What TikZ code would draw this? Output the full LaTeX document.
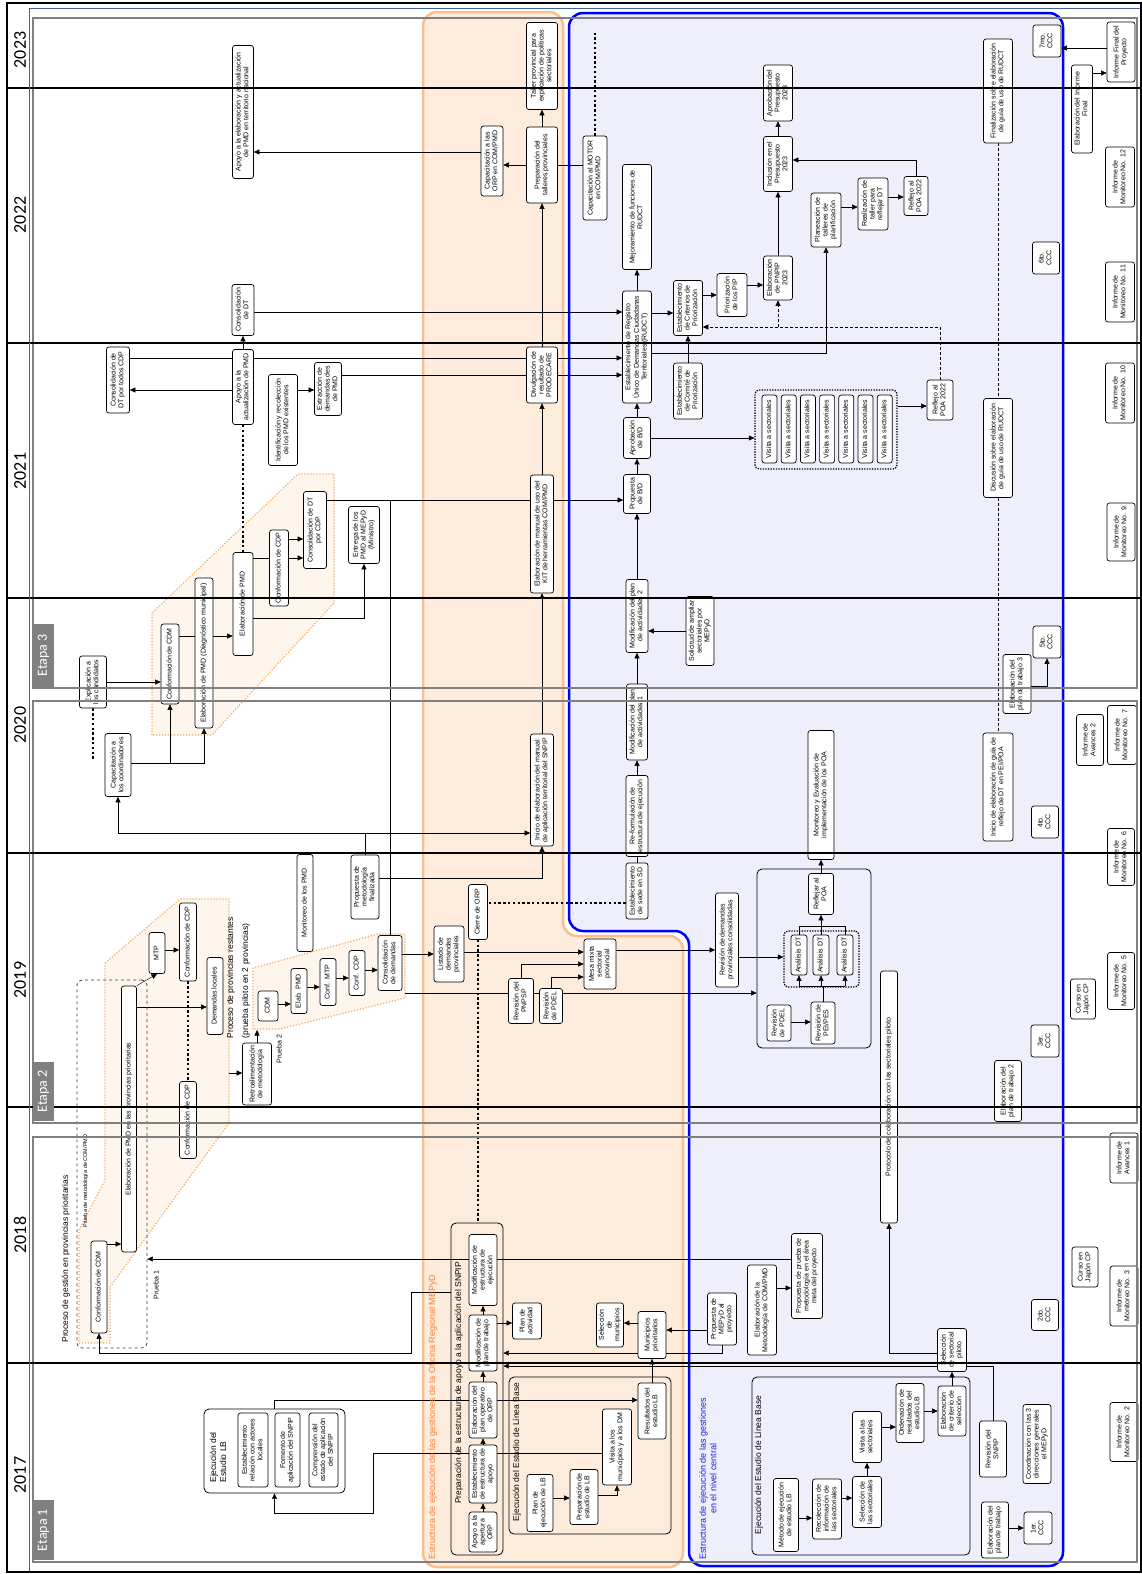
\documentclass[tikz,border=0pt]{standalone}
\usepackage{graphicx}
\usepackage{fontspec}
\setmainfont{Liberation Sans}
\newfontfamily\carlito{Carlito}
\usetikzlibrary{arrows.meta}
\definecolor{laneO}{RGB}{253,236,220}
\definecolor{laneOb}{RGB}{250,191,143}
\definecolor{laneB}{RGB}{239,239,251}
\definecolor{hexF}{RGB}{254,246,236}
\definecolor{hexL}{RGB}{248,170,95}
\definecolor{txtO}{RGB}{244,128,56}
\definecolor{txtB}{RGB}{30,30,230}
\definecolor{etapaG}{RGB}{128,128,128}
\definecolor{frameB}{RGB}{60,100,150}
\newcommand\vt[2][c]{\rotatebox{90}{\begin{tabular}{@{}#1@{}}#2\end{tabular}}}
\pgfdeclarelayer{bg}\pgfdeclarelayer{lines}\pgfdeclarelayer{front}
\pgfsetlayers{bg,lines,main,front}
\tikzset{
  bx/.style={draw,rounded corners=2.5pt,fill=white,inner sep=1pt,line width=.7pt,font=\fontsize{7}{7.8}\selectfont},
  sz/.style 2 args={minimum width=#1pt,minimum height=#2pt},
  grp/.style={draw,rounded corners=5pt,line width=.8pt,inner sep=0pt},
  dotgrp/.style={draw,rounded corners=4pt,line width=1.3pt,dash pattern=on 1.3pt off 1.3pt,inner sep=0pt},
  lbl/.style={inner sep=0pt,font=\fontsize{8.5}{10}\selectfont},
  contd/.style={line width=2.4pt,dash pattern=on 2.4pt off 2.4pt},
  dsh/.style={line width=.6pt,dash pattern=on 3pt off 2pt},
  hex/.style={fill=hexF,draw=hexL,line width=1.2pt,dash pattern=on 1.2pt off 1.8pt},
  yr/.style={inner sep=0pt,font=\carlito\fontsize{18}{18}\selectfont},
  etp/.style={fill=etapaG,text=white,inner sep=0pt,minimum width=21pt,font=\carlito\fontsize{14}{14}\selectfont}
}
\begin{document}
\begin{tikzpicture}[x=1pt,y=-1pt,line width=.7pt,>={Triangle[length=5.5pt,width=5pt]}]
\useasboundingbox (0,0) rectangle (1142,1574);

\node[bx,sz={21}{133}] (apoyoTN) at (243,112) {\vt{Apoyo a la elaboración y actualización\\de PMD en territorio nacional}};
\node[bx,sz={22}{51}] (consDT) at (243,310) {\vt{Consolidación\\de DT}};
\node[bx,sz={31}{87}] (taller) at (542,66) {\vt{Taller provincial para\\explicación de políticas\\sectoriales}};
\node[bx,sz={31}{76}] (prepTall) at (542,165) {\vt{Preparación del\\talleres provinciales}};
\node[bx,sz={22}{70}] (capORP) at (492,161) {\vt{Capacitación a las\\ORP en COM/PMD}};
\node[bx,sz={24}{84}] (capMOT) at (595,178) {\vt{Capacitación al MOTDR\\en COM/PMD}};
\node[bx,sz={29}{105}] (mejora) at (637,217) {\vt{Mejoramiento de funciones de\\RUDCT}};
\node[bx,sz={29}{112}] (rudct) at (637,347) {\vt{Establecimiento de Registro\\Único de Demandas Ciudadanas\\Territoriales (RUDCT)}};
\node[bx,sz={29}{55}] (criterios) at (688,308) {\vt{Establecimiento\\de Criterios de\\Priorización}};
\node[bx,sz={30}{43}] (priorPIP) at (732,295) {\vt{Priorización\\de los PIP}};
\node[bx,sz={29}{56}] (comite) at (688,391) {\vt{Establecimiento\\de Comité de\\Priorización}};
\node[bx,sz={29}{56}] (aprobPres) at (778,93) {\vt{Aprobación del\\Presupuesto\\2023}};
\node[bx,sz={29}{55}] (inclPres) at (778,164) {\vt{Inclusión en el\\Presupuesto\\2023}};
\node[bx,sz={29}{44}] (pnpip) at (778,278) {\vt{Elaboración\\de PNPIP\\2023}};
\node[bx,sz={30}{54}] (planea) at (826,220) {\vt{Planeación de\\talleres de\\planificación}};
\node[bx,sz={30}{52}] (realiz) at (873,204) {\vt{Realización de\\taller para\\reflejar DT}};
\node[bx,sz={24}{39}] (reflejoA) at (916,196) {\vt{Reflejo al\\POA 2022}};
\node[bx,sz={29}{104}] (finGuia) at (998,91) {\vt{Finalización sobre elaboración\\de guía de uso de RUDCT}};
\node[bx,sz={28}{32}] (ccc7) at (1047,41) {\vt{7mo.\\CCC}};
\node[bx,sz={27}{32}] (ccc6) at (1046,258) {\vt{6to.\\CCC}};
\node[bx,sz={21}{88}] (elabIF) at (1082,109) {\vt{Elaboración del Informe\\Final}};
\node[bx,sz={28}{60}] (infFinal) at (1121,52) {\vt{Informe Final del\\Proyecto}};
\node[bx,sz={29}{60}] (mon12) at (1120,177) {\vt{Informe de\\Monitoreo No. 12}};
\node[bx,sz={29}{60}] (mon11) at (1120,292) {\vt{Informe de\\Monitoreo No. 11}};
\node[bx,sz={29}{60}] (mon10) at (1120,393) {\vt{Informe de\\Monitoreo No. 10}};

\node[bx,sz={23}{66}] (consTodos) at (118,380) {\vt{Consolidación de\\DT por todos CDP}};
\node[bx,sz={21}{75}] (apoyoAct) at (243,387) {\vt{Apoyo a la\\actualización de PMD}};
\node[bx,sz={29}{91}] (identif) at (283,420) {\vt{Identificación y recolección\\de los PMD existentes}};
\node[bx,sz={27}{53}] (extrac) at (328,389) {\vt{Extracción de\\demandas des\\de PMD}};
\node[bx,sz={31}{56}] (divulg) at (542,375) {\vt{Divulgación de\\resultado de\\PRODECARE}};
\node[bx,sz={23}{118}] (elabKIT) at (542,534) {\vt{Elaboración de manual de uso del\\KIT de herramientas COM/PMD}};
\node[bx,sz={27}{39}] (propBD) at (637,494) {\vt{Propuesta\\de B/D}};
\node[bx,sz={27}{41}] (aprobBD) at (637,438) {\vt{Aprobación\\de B/D}};
\node[bx,sz={22}{73}] (modPlan2) at (637,616) {\vt{Modificación del plan\\de actividades 2}};
\node[bx,sz={28}{69}] (solicitud) at (700,631) {\vt{Solicitud de ampliar\\sectoriales por\\MEPyD}};
\node[dotgrp,sz={142}{79}] (vgrp) at (826,429.5) {};
\foreach \i in {0,...,6}
  \node[bx,sz={15}{68}] (vis\i) at ({769.5+19.2*\i},429) {\vt{Visita a sectoriales}};
\node[bx,sz={26}{40}] (reflejoB) at (940,400) {\vt{Reflejo al\\POA 2022}};
\node[bx,sz={29}{99}] (discGuia) at (998,448) {\vt{Discusión sobre elaboración\\de guía de uso de RUDCT}};
\node[bx,sz={28}{58}] (mon9) at (1121,532) {\vt{Informe de\\Monitoreo No. 9}};
\node[bx,sz={27}{52}] (explic) at (93,682) {\vt{Explicación a\\los candidatos}};
\node[bx,sz={18}{80}] (confCDMa) at (170,664) {\vt{Conformación de CDM}};
\node[bx,sz={18}{150}] (elabDiag) at (204,653) {\vt{Elaboración de PMD (Diagnóstico municipal)}};
\node[bx,sz={20}{103}] (elabPMD) at (243,604) {\vt{Elaboración de PMD}};
\node[bx,sz={19}{76}] (confCDPc) at (279,568) {\vt{Conformación de CDP}};
\node[bx,sz={23}{77}] (consCDP) at (315,530) {\vt{Consolidación de DT\\por CDP}};
\node[bx,sz={31}{57}] (entrega) at (364,535) {\vt{Entrega de los\\PMD al MEPyD\\(Ministro)}};
\node[bx,sz={26}{63}] (capCoord) at (118,765) {\vt{Capacitación a\\los coordinadores}};

\node[bx,sz={28}{32}] (ccc5) at (1047,642) {\vt{5to.\\CCC}};
\node[bx,sz={28}{59}] (elabPT3) at (1017,684) {\vt{Elaboración del\\plan de trabajo 3}};
\node[bx,sz={27}{51}] (avances2) at (1090,740) {\vt{Informe de\\Avances 2}};
\node[bx,sz={29}{59}] (mon7) at (1122,735) {\vt{Informe de\\Monitoreo No. 7}};
\node[bx,sz={21}{76}] (modPlan1) at (637,722) {\vt{Modificación del plan\\de actividades 1}};
\node[bx,sz={22}{81}] (reform) at (637,816) {\vt{Re-formulación de\\estructura de ejecución}};
\node[bx,sz={23}{112}] (inicioMan) at (542,790) {\vt{Inicio de elaboración del manual\\de aplicación territorial del SNPIP}};
\node[bx,sz={26}{129}] (monitEval) at (821,795) {\vt{Monitoreo y Evaluación de\\implementación de los POA}};
\node[bx,sz={30}{108}] (inicioGuia) at (998,787) {\vt{Inicio de elaboración de guía de\\reflejo de DT en PEI/POA}};
\node[bx,sz={27}{32}] (ccc4) at (1045,822) {\vt{4to.\\CCC}};
\node[bx,sz={27}{57}] (mon6) at (1121,857) {\vt{Informe de\\Monitoreo No. 6}};

\node[bx,sz={22}{56}] (sede) at (637,891) {\vt{Establecimiento\\de sede en SD}};
\node[bx,sz={19}{55}] (cierre) at (478,912) {\vt{Cierre de ORP}};
\node[bx,sz={30}{56}] (listado) at (449,954) {\vt{Listado de\\demandas\\provinciales}};
\node[bx,sz={24}{55}] (consDem) at (390,963) {\vt{Consolidación\\de demandas}};
\node[bx,sz={32}{50}] (mesa) at (600,964) {\vt{Mesa mixta\\sectorial\\provincial}};
\node[bx,sz={25}{45}] (revPNPSP) at (521,1001) {\vt{Revisión del\\PNPSP}};
\node[bx,sz={23}{35}] (revPDELa) at (551,1006) {\vt{Revisión\\de PDEL}};
\node[bx,sz={23}{94}] (revDem) at (727,940) {\vt{Revisión de demandas\\provinciales consolidadas}};
\node[grp,sz={114}{179}] (revGrp) at (814,958.5) {};
\node[bx,sz={25}{41}] (reflejar) at (821,894) {\vt{Reflejar al\\POA}};
\node[dotgrp,sz={75}{56}] (anaGrp) at (821.5,959) {};
\node[bx,sz={16}{40}] (ana1) at (799,955) {\vt{Análisis DT}};
\node[bx,sz={16}{40}] (ana2) at (821,955) {\vt{Análisis DT}};
\node[bx,sz={16}{40}] (ana3) at (845,955) {\vt{Análisis DT}};
\node[bx,sz={24}{36}] (revPDELb) at (779,1023) {\vt{Revisión\\de PDEL}};
\node[bx,sz={24}{42}] (revPEI) at (823,1023) {\vt{Revisión de\\PEI/PES}};
\node[bx,sz={17}{252}] (protocolo) at (889,1097) {\vt{Protocolo de colaboración con las sectoriales piloto}};
\node[bx,sz={25}{40}] (cursoA) at (1083,999) {\vt{Curso en\\Japón CP}};
\node[bx,sz={27}{57}] (mon5) at (1121,981) {\vt{Informe de\\Monitoreo No. 5}};
\node[bx,sz={28}{32}] (ccc3) at (1045,1041) {\vt{3er.\\CCC}};
\node[bx,sz={27}{61}] (elabPT2) at (1008,1091) {\vt{Elaboración del\\plan de trabajo 2}};
\node[bx,sz={16}{97}] (monPMD) at (305,903) {\vt{Monitoreo de los PMD}};
\node[bx,sz={28}{64}] (propMet) at (365,887) {\vt{Propuesta de\\metodología\\finalizada}};
\node[bx,sz={16}{41}] (mtp) at (157,953) {\vt{MTP}};
\node[bx,sz={17}{78}] (confCDPa) at (188,942) {\vt{Conformación de CDP}};
\node[bx,sz={16}{77}] (demLoc) at (215,996) {\vt{Demandas locales}};
\node[bx,sz={17}{77}] (confCDPb) at (188,1120) {\vt{Conformación de CDP}};
\node[bx,sz={29}{62}] (retro) at (257,1074) {\vt{Retroalimentación\\de metodología}};
\node[bx,sz={20}{30}] (cdmB) at (268,1006) {\vt{CDM}};
\node[bx,sz={16}{45}] (elabB) at (299,991) {\vt{Elab. PMD}};
\node[bx,sz={16}{47}] (confMTP) at (328,982) {\vt{Conf. MTP}};
\node[bx,sz={16}{45}] (confCDPd) at (357,973) {\vt{Conf. CDP}};
\node[bx,sz={15}{266}] (elabProv) at (129,1119) {\vt{Elaboración de PMD en las provincias prioritarias}};

\node[bx,sz={16}{92}] (confCDMb) at (99,1287) {\vt{Conformación de CDM}};
\node[grp,dashed,draw=black!75,sz={70}{368}] (pgGrp) at (112,1164) {};
\node[bx,sz={28}{50}] (avances1) at (1124,1158) {\vt{Informe de\\Avances 1}};
\node[bx,sz={26}{40}] (cursoB) at (1085,1267) {\vt{Curso en\\Japón CP}};
\node[bx,sz={28}{60}] (mon3) at (1124,1296) {\vt{Informe de\\Monitoreo No. 3}};
\node[bx,sz={27}{31}] (ccc2) at (1045,1315) {\vt{2do.\\CCC}};
\node[bx,sz={31}{85}] (propPrueba) at (807,1276) {\vt{Propuesta de prueba de\\metodología en el área\\meta del proyecto}};
\node[bx,sz={29}{90}] (elabMet) at (762,1310) {\vt{Elaboración de la\\Metodología de COM/PMD}};
\node[bx,sz={29}{43}] (selSect) at (952,1350) {\vt{Selección\\de sectorial\\piloto}};
\node[grp,sz={52}{332}] (prepGrp) at (477,1389) {};
\node[bx,sz={28}{71}] (modEstr) at (483,1270) {\vt{Modificación de\\estructura de\\ejecución}};
\node[bx,sz={28}{56}] (modPlan) at (483,1343) {\vt{Modificación de\\plan de trabajo}};
\node[bx,sz={29}{36}] (planAct) at (527,1321) {\vt{Plan de\\actividad}};
\node[bx,sz={27}{44}] (selMun) at (610,1325) {\vt{Selección\\de\\municipios}};
\node[bx,sz={28}{47}] (munPrio) at (652,1335) {\vt{Municipios\\prioritarios}};
\node[bx,sz={29}{52}] (propMEPyD) at (722,1319) {\vt{Propuesta de\\MEPyD al\\proyecto}};

\node[bx,sz={28}{56}] (elabPO) at (483,1410) {\vt{Elaboración del\\plan operativo\\de ORP}};
\node[bx,sz={28}{58}] (estEstr) at (483,1474) {\vt{Establecimiento\\de estructura de\\apoyo}};
\node[bx,sz={28}{40}] (apoyoORP) at (483,1532) {\vt{Apoyo a la\\apertura\\ORP}};
\node[grp,sz={162}{157}] (lbGrpO) at (590,1455.5) {};
\node[bx,sz={26}{57}] (planLB) at (540,1503) {\vt{Plan de\\ejecución de LB}};
\node[bx,sz={28}{55}] (prepLB) at (584,1497) {\vt{Preparación de\\estudio de LB}};
\node[bx,sz={29}{76}] (visMun) at (617,1447) {\vt{Visita a los\\municipios y a los DM}};
\node[bx,sz={28}{56}] (resLB) at (652,1411) {\vt{Resultados del\\estudio LB}};
\node[grp,sz={141}{84}] (lbGrp17) at (274.5,1451) {};
\node[bx,sz={30}{74}] (est17) at (253,1450) {\vt{Establecimiento\\relación con actores\\locales}};
\node[bx,sz={25}{74}] (fom17) at (287.5,1450) {\vt{Fomento de\\aplicación del SNPIP}};
\node[bx,sz={29}{74}] (comp17) at (323.5,1450) {\vt{Comprensión del\\estado de aplicación\\del SNPIP}};
\node[grp,sz={218}{178}] (lbGrpB) at (861,1466) {};
\node[bx,sz={25}{73}] (metodo) at (786,1515) {\vt{Método de ejecución\\de estudio LB}};
\node[bx,sz={29}{60}] (recol) at (827,1509) {\vt{Recolección de\\información de\\las sectoriales}};
\node[bx,sz={29}{51}] (selS) at (867,1502) {\vt{Selección de\\las sectoriales}};
\node[bx,sz={29}{51}] (visS) at (867,1437) {\vt{Visita a las\\sectoriales}};
\node[bx,sz={28}{59}] (orden) at (910,1413) {\vt{Ordenación de\\resultados del\\estudio LB}};
\node[bx,sz={28}{50}] (criterio) at (952,1411) {\vt{Elaboración\\de criterio de\\selección}};
\node[bx,sz={27}{56}] (revSNPIP) at (993,1449) {\vt{Revisión del\\SNPIP}};
\node[bx,sz={28}{79}] (coord3) at (1037,1444) {\vt{Coordinación con las 3\\direcciones generales\\el MEPyD}};
\node[bx,sz={27}{56}] (elabPT) at (995,1530) {\vt{Elaboración del\\plan de trabajo}};
\node[bx,sz={28}{32}] (ccc1) at (1038,1528) {\vt{1er.\\CCC}};
\node[bx,sz={28}{59}] (mon2) at (1124,1432) {\vt{Informe de\\Monitoreo No. 2}};

\node[lbl,text=txtO,font=\fontsize{9}{10}\selectfont,anchor=south] (lblO) at (433,1560) {\vt{Estructura de ejecución de las gestiones de la Oficina Regional MEPyD}};
\node[lbl,text=txtB,font=\fontsize{9}{10.5}\selectfont,anchor=south] (lblB) at (709,1560) {\vt{Estructura de ejecución de las gestiones\\en el nivel central}};
\node[lbl] (lblPrep) at (459,1383) {\vt{Preparación de la estructura de apoyo a la aplicación del SNPIP}};
\node[lbl] (lblLBo) at (517,1452) {\vt{Ejecución del Estudio de Línea Base}};
\node[lbl] (lblLBb) at (759,1465) {\vt{Ejecución del Estudio de Línea Base}};
\node[lbl,anchor=south] (lbl17) at (219,1483) {\vt[l]{Ejecución del\\Estudio LB}};
\node[lbl,anchor=south] (lblPG) at (66,1343) {\vt{Proceso de gestión en provincias prioritarias}};
\node[lbl,font=\fontsize{5.5}{6}\selectfont,anchor=south] (lblPM) at (86,1228) {\vt{Prueba de metodología de COM/PMD}};
\node[lbl,font=\fontsize{7}{8}\selectfont] (lblP1) at (157,1285) {\vt{Prueba 1}};
\node[lbl] (lblPR) at (231,978) {\vt{Proceso de provincias restantes}};
\node[lbl] (lblPP) at (246,981) {\vt{(prueba piloto en 2 provincias)}};
\node[lbl,font=\fontsize{7}{8}\selectfont] (lblP2) at (280,1049) {\vt{Prueba 2}};

\begin{pgfonlayer}{bg}
\fill[white] (0,0) rectangle (1142,1574);
\path[fill=laneO,draw=laneOb,line width=2.5pt,rounded corners=14pt] (423,1567) -- (423,12) -- (563,12) -- (563,936) -- (683,936) -- (683,1567) -- cycle;
\path[fill=laneB,draw=blue,line width=2.5pt,rounded corners=14pt] (689,1566) -- (689,931) -- (569,931) -- (569,13) -- (1063,13) -- (1063,1566) -- cycle;
\draw[hex] (152,735) -- (152,613) -- (298,474) -- (334,474) -- (334,603) -- (212,735) -- cycle;
\draw[hex] (105,963) -- (180,899) -- (229,899) -- (229,1123) -- (110,1287) -- (110,1343) -- (79,1343) -- (79,1230) -- (105,1180) -- cycle;
\draw[hex] (253,1029) -- (253,968) -- (378,934) -- (405,934) -- (405,998) -- (280,1029) -- cycle;
\end{pgfonlayer}

\begin{pgfonlayer}{lines}
\draw[->] (capORP.west |- 0,152) -- (apoyoTN.east |- 0,152);
\draw[->] (consDT.east |- 0,312) -- (rudct.west |- 0,312);
\draw[->] (prepTall) -- (taller);
\draw[->] (prepTall.west |- 0,165) -- (capORP.east |- 0,165);
\draw (capMOT.west |- 0,165) -- (prepTall.east |- 0,165);
\coordinate (motEnd) at (595,33);
\draw[contd] (capMOT.north) -- (motEnd);
\draw[->] (divulg) -- (prepTall);
\draw[->] (rudct) -- (mejora);
\draw[->] (rudct.east |- 0,313) -- (criterios.west |- 0,313);
\draw[->] (criterios.east |- 0,295) -- (priorPIP.west |- 0,295);
\draw[->] (comite) -- (criterios);
\draw[->] (priorPIP.east |- 0,285) -- (pnpip.west |- 0,285);
\draw[->] (pnpip) -- (inclPres);
\draw[->] (inclPres) -- (aprobPres);
\draw[dsh,->] (reflejoB.north) |- (criterios.east |- 0,327);
\draw[dsh,->] (pnpip.south |- 0,327) -- (pnpip.south);
\draw[->] (rudct.east |- 0,353) -| (planea.south);
\draw[->] (planea.east |- 0,207) -- (realiz.west |- 0,207);
\draw[->] (realiz.east |- 0,197) -- (reflejoA.west |- 0,197);
\draw[->] (reflejoA.north) |- (inclPres.east |- 0,160);
\draw[dsh] (finGuia) -- (discGuia);
\draw[dsh] (discGuia) -- (inicioGuia);
\draw[->] (elabIF.east |- 0,73) -- (infFinal.west |- 0,73);
\draw[->] (infFinal.west |- 0,48) -- (ccc7.east |- 0,48);

\draw[->] (apoyoAct.west |- 0,390) -- (consTodos.east |- 0,390);
\draw[->] (consTodos.east |- 0,358) -- (rudct.west |- 0,358);
\draw[->] (apoyoAct) -- (consDT);
\draw[->] (identif.east |- 0,390) -- (extrac.west |- 0,390);
\draw[->] (extrac.east |- 0,375) -- (rudct.west |- 0,375);
\draw[contd] (elabPMD) -- (apoyoAct);
\draw[->] (elabKIT) -- (divulg);
\draw[->] (inicioMan) -- (elabKIT);
\draw[->] (consCDP.east |- 0,500) -- (propBD.west |- 0,500);
\coordinate (jct) at (390,500);
\draw (consDem) -- (jct);
\draw[->] (modPlan2) -- (propBD);
\draw[->] (propBD) -- (aprobBD);
\draw[->] (aprobBD) -- (rudct);
\draw[->] (aprobBD.east |- 0,438) -- (vgrp.west |- 0,438);
\draw[->] (vgrp.east |- 0,406) -- (reflejoB.west |- 0,406);
\draw[->] (solicitud.west |- 0,631) -- (modPlan2.east |- 0,631);
\draw[->] (modPlan1) -- (modPlan2);
\draw[->] (reform) -- (modPlan1);
\draw (sede) -- (reform);
\draw[->] (confCDMa.east |- 0,636) -- (elabPMD.west |- 0,636);
\draw (elabPMD.east |- 0,558) -- (confCDPc.west |- 0,558);
\draw[->] (confCDPc.east |- 0,539) -- (consCDP.west |- 0,539);
\draw[->] (confCDPc.east |- 0,558) -- (consCDP.west |- 0,558);
\draw[->] (elabPMD.east |- 0,618) -| (entrega.south);
\draw[->] (explic.east |- 0,682) -- (confCDMa.west |- 0,682);
\coordinate (expEnd) at (93,761);
\draw[contd] (explic) -- (expEnd);
\draw[->] (capCoord.east |- 0,763) -| (confCDMa.south);
\draw[->] (capCoord.east |- 0,763) -| (elabDiag.south);
\coordinate (pmj) at (365,833);
\draw (propMet) -- (pmj);
\draw[->] (pmj) -| (capCoord);
\draw[->] (pmj) -- (inicioMan.west |- pmj);
\draw[->] (propMet.east |- 0,878) -| (inicioMan);

\draw[contd] (sede.west |- 0,903) -- (cierre.east |- 0,903);
\draw[contd] (cierre.south) -- (cierre.south |- prepGrp.north);
\draw[->] (consDem.east |- 0,954) -- (listado.west |- 0,954);
\draw[->] (listado.east |- 0,952) -- (mesa.west |- 0,952);
\draw[->] (revPNPSP.north) |- (mesa.west |- 0,964);
\draw[->] (revPDELa.north) |- (mesa.west |- 0,977);
\draw[->] (mesa.east |- 0,950) -- (revDem.west |- 0,950);
\draw[->] (revDem.east |- 0,957) -- (anaGrp.west |- 0,957);
\coordinate (h2out) at (405,993);
\draw[->] (h2out) -- (revGrp.west |- h2out);
\draw[->] (revPDELb.east |- 0,1022) -- (revPEI.west |- 0,1022);
\draw (revPEI) -- (revPEI.north |- 0,986);
\draw (ana1.south |- 0,986) -- (ana3.south |- 0,986);
\foreach \a in {ana1,ana2,ana3} \draw[->] (\a.south |- 0,986) -- (\a.south);
\draw (ana1.north) |- (ana3.north |- 0,926) -- (ana3.north);
\draw[->] (ana2.north) -- (reflejar);
\draw[->] (reflejar) -- (monitEval);
\draw[->] (selSect.west |- 0,1353) -| (protocolo);
\coordinate (h1out) at (229,1073);
\draw[->] (h1out) -- (retro.west |- h1out);
\coordinate (h2in) at (257,1030);
\draw[->] (retro) -- (h2in);
\draw[->] (cdmB.east |- 0,1004) -- (elabB.west |- 0,1004);
\draw[->] (elabB.east |- 0,987) -- (confMTP.west |- 0,987);
\draw[->] (confMTP.east |- 0,978) -- (confCDPd.west |- 0,978);
\draw[->] (confCDPd.east |- 0,970) -- (consDem.west |- 0,970);
\draw[->] (elabProv.east |- 0,1007) -- (demLoc.west |- 0,1007);
\draw[->] (elabProv.north east) -- (mtp.south);
\draw[->] (mtp.east |- 0,950) -- (confCDPa.west |- 0,950);
\draw[contd] (confCDPa) -- (confCDPb);
\draw[->] (confCDMb.east |- 0,1244) -- (elabProv.west |- 0,1244);

\draw[->] (propPrueba.west |- 0,1259) -- (pgGrp.east |- 0,1259);
\draw[->] (prepGrp.west |- 0,1292) -- ++(-39,0) |- (confCDMb.south |- 0,1353) -- (confCDMb.south);
\draw[->] (elabMet.east |- 0,1288) -- (propPrueba.west |- 0,1288);
\draw[->] (revSNPIP.north) |- (prepGrp.east |- 0,1366);
\draw[->] (propMEPyD.south) |- (prepGrp.east |- 0,1353);
\draw[->] (propMEPyD.west |- 0,1330) -- (munPrio.east |- 0,1330);
\draw[->] (munPrio.west |- 0,1323) -- (selMun.east |- 0,1323);
\draw[->] (resLB) -- (munPrio);
\draw[->] (modPlan.east |- 0,1323) -- (planAct.west |- 0,1323);
\draw[->] (apoyoORP) -- (estEstr);
\draw[->] (estEstr) -- (elabPO);
\draw[->] (elabPO) -- (modPlan);
\draw[->] (modPlan) -- (modEstr);
\draw[->] (lbGrp17.north) |- (resLB.west |- 0,1400);
\draw[->] (visMun.west |- 0,1453) -| (373,1513) -| (lbGrp17.south);
\draw[->] (planLB.east |- 0,1498) -- (prepLB.west |- 0,1498);
\draw[->] (prepLB.east |- 0,1495) -| (visMun.south);
\draw[->] (metodo.east |- 0,1518) -- (recol.west |- 0,1518);
\draw[->] (recol.east |- 0,1498) -- (selS.west |- 0,1498);
\draw[->] (selS) -- (visS);
\draw[->] (visS.east |- 0,1427) -- (orden.west |- 0,1427);
\draw[->] (orden.east |- 0,1411) -- (criterio.west |- 0,1411);
\draw[->] (criterio) -- (selSect);
\draw[->] (elabPT.east |- 0,1528) -- (ccc1.west |- 0,1528);
\draw[->] (elabPT3.east |- 0,686) -| (ccc5.south);
\end{pgfonlayer}

\begin{pgfonlayer}{front}
\draw[etapaG,line width=1.6pt] (33,18) rectangle (1137,688) (33,701) rectangle (1137,1123) (33,1137) rectangle (1137,1562);
\foreach \yy in {88,343,598,853,1107,1363} \draw[line width=1.6pt] (7,\yy) -- (1142,\yy);
\draw[frameB,line width=1pt] (29,1571) -- (29,8) -- (1142,8);
\draw[line width=2pt] (7,3) rectangle (1141,1572);
\node[etp,minimum height=63pt] (et3) at (43.5,655.5) {\rotatebox{90}{Etapa 3}};
\node[etp,minimum height=59pt] (et2) at (43.5,1091.5) {\rotatebox{90}{Etapa 2}};
\node[etp,minimum height=60pt] (et1) at (43.5,1530) {\rotatebox{90}{Etapa 1}};
\foreach \yy/\yt in {50/2023,215/2022,471/2021,725/2020,980/2019,1235/2018,1475/2017}
  \node[yr] (y\yt) at (20,\yy) {\rotatebox{90}{\yt}};
\end{pgfonlayer}
\end{tikzpicture}
\end{document}
